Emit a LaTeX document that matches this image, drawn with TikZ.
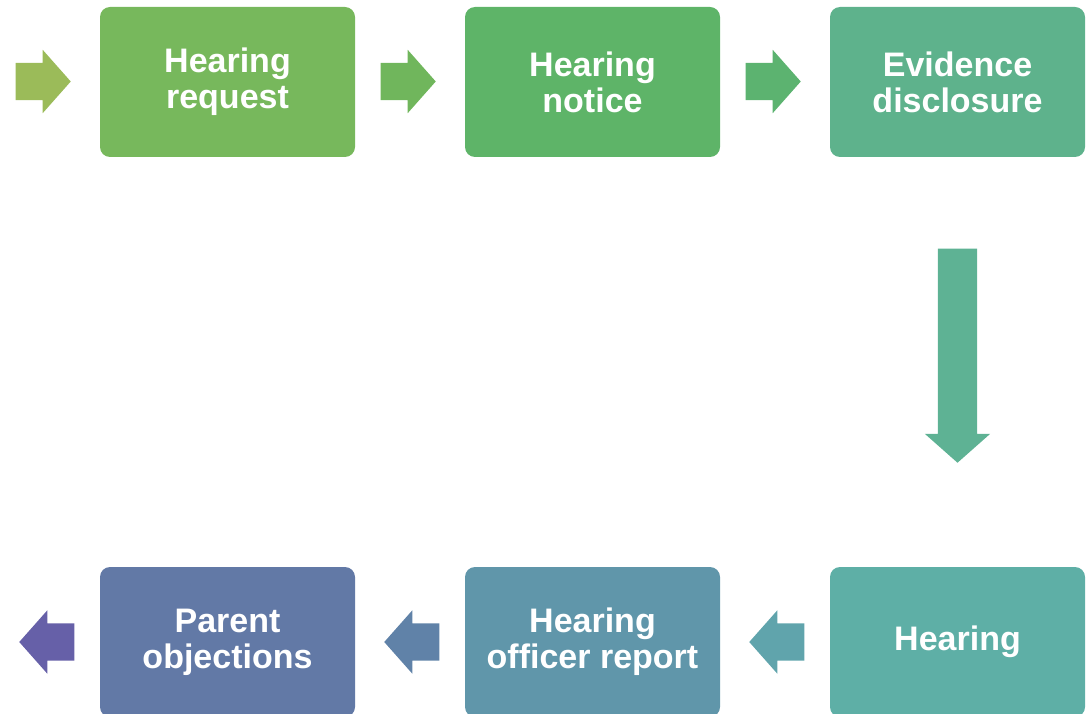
\documentclass[tikz,border=0pt]{standalone}
\usepackage{fontspec}
\setmainfont{Liberation Sans}
\usetikzlibrary{shapes.arrows}
\definecolor{arrA}{RGB}{155,187,89}
\definecolor{boxA}{RGB}{119,184,92}
\definecolor{arrB}{RGB}{112,182,92}
\definecolor{boxB}{RGB}{94,180,104}
\definecolor{arrC}{RGB}{92,179,112}
\definecolor{boxC}{RGB}{94,178,140}
\definecolor{arrD}{RGB}{94,178,148}
\definecolor{boxD}{RGB}{94,175,166}
\definecolor{arrE}{RGB}{96,164,172}
\definecolor{boxE}{RGB}{96,150,170}
\definecolor{arrF}{RGB}{96,130,168}
\definecolor{boxF}{RGB}{98,121,166}
\definecolor{arrG}{RGB}{102,96,168}
\begin{document}
\begin{tikzpicture}[x=1pt,y=-1pt,
  stagebox/.style={rectangle,rounded corners=10pt,minimum width=255pt,minimum height=150pt,
    inner sep=0pt,align=center,text=white,font=\bfseries\fontsize{34}{36}\selectfont},
  flowarrow/.style={single arrow,anchor=tip,inner xsep=0pt,inner ysep=18.5pt,minimum height=55pt,
    single arrow head extend=13pt,single arrow tip angle=97}]
\useasboundingbox (0,0) rectangle (1089,714);
%% stages
\node [stagebox,fill=boxA] (request) at (227.5,82) {Hearing\\request};
\node [stagebox,fill=boxB] (notice) at (592.5,82) {Hearing\\notice};
\node [stagebox,fill=boxC] (disclosure) at (957.5,82) {Evidence\\disclosure};
\node [stagebox,fill=boxD] (hearing) at (957.5,642) {Hearing};
\node [stagebox,fill=boxE] (report) at (592.5,642) {Hearing\\officer report};
\node [stagebox,fill=boxF] (objections) at (227.5,642) {Parent\\objections};
%% arrows, placed by their tips
\node [flowarrow,fill=arrA] (inarrow) at (71,81.5) {};
\node [flowarrow,fill=arrB] (reqnot) at (436,81.5) {};
\node [flowarrow,fill=arrC] (notdis) at (801,81.5) {};
\node [flowarrow,fill=arrD,inner xsep=19.5pt,inner ysep=0pt,minimum height=214pt,
  shape border rotate=270] (dishear) at (957.5,463) {};
\node [flowarrow,fill=arrE,shape border rotate=180] (hearrep) at (749,642) {};
\node [flowarrow,fill=arrF,shape border rotate=180] (repobj) at (384,642) {};
\node [flowarrow,fill=arrG,shape border rotate=180] (outarrow) at (19,642) {};
\end{tikzpicture}
\end{document}
